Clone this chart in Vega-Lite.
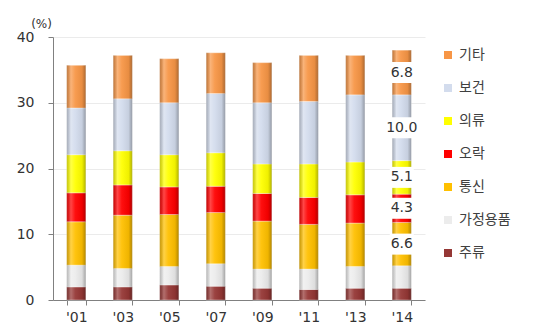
{
  "$schema": "https://vega.github.io/schema/vega-lite/v6.json",
  "autosize": "none",
  "width": 372,
  "height": 263,
  "padding": {"left": 53, "top": 37, "right": 112, "bottom": 28},
  "background": "white",
  "datasets": {
    "share": [
      {"year": "'01", "cat": "주류", "value": 2.0},
      {"year": "'01", "cat": "가정용품", "value": 3.3},
      {"year": "'01", "cat": "통신", "value": 6.6},
      {"year": "'01", "cat": "오락", "value": 4.4},
      {"year": "'01", "cat": "의류", "value": 5.8},
      {"year": "'01", "cat": "보건", "value": 7.1},
      {"year": "'01", "cat": "기타", "value": 6.5},
      {"year": "'03", "cat": "주류", "value": 2.0},
      {"year": "'03", "cat": "가정용품", "value": 2.8},
      {"year": "'03", "cat": "통신", "value": 8.1},
      {"year": "'03", "cat": "오락", "value": 4.6},
      {"year": "'03", "cat": "의류", "value": 5.2},
      {"year": "'03", "cat": "보건", "value": 7.9},
      {"year": "'03", "cat": "기타", "value": 6.6},
      {"year": "'05", "cat": "주류", "value": 2.3},
      {"year": "'05", "cat": "가정용품", "value": 2.8},
      {"year": "'05", "cat": "통신", "value": 7.9},
      {"year": "'05", "cat": "오락", "value": 4.2},
      {"year": "'05", "cat": "의류", "value": 4.9},
      {"year": "'05", "cat": "보건", "value": 7.9},
      {"year": "'05", "cat": "기타", "value": 6.7},
      {"year": "'07", "cat": "주류", "value": 2.1},
      {"year": "'07", "cat": "가정용품", "value": 3.4},
      {"year": "'07", "cat": "통신", "value": 7.8},
      {"year": "'07", "cat": "오락", "value": 4.0},
      {"year": "'07", "cat": "의류", "value": 5.1},
      {"year": "'07", "cat": "보건", "value": 9.0},
      {"year": "'07", "cat": "기타", "value": 6.2},
      {"year": "'09", "cat": "주류", "value": 1.8},
      {"year": "'09", "cat": "가정용품", "value": 2.9},
      {"year": "'09", "cat": "통신", "value": 7.3},
      {"year": "'09", "cat": "오락", "value": 4.2},
      {"year": "'09", "cat": "의류", "value": 4.5},
      {"year": "'09", "cat": "보건", "value": 9.3},
      {"year": "'09", "cat": "기타", "value": 6.1},
      {"year": "'11", "cat": "주류", "value": 1.6},
      {"year": "'11", "cat": "가정용품", "value": 3.1},
      {"year": "'11", "cat": "통신", "value": 6.8},
      {"year": "'11", "cat": "오락", "value": 4.1},
      {"year": "'11", "cat": "의류", "value": 5.1},
      {"year": "'11", "cat": "보건", "value": 9.5},
      {"year": "'11", "cat": "기타", "value": 7.0},
      {"year": "'13", "cat": "주류", "value": 1.8},
      {"year": "'13", "cat": "가정용품", "value": 3.3},
      {"year": "'13", "cat": "통신", "value": 6.6},
      {"year": "'13", "cat": "오락", "value": 4.3},
      {"year": "'13", "cat": "의류", "value": 5.0},
      {"year": "'13", "cat": "보건", "value": 10.2},
      {"year": "'13", "cat": "기타", "value": 6.0},
      {"year": "'14", "cat": "주류", "value": 1.8},
      {"year": "'14", "cat": "가정용품", "value": 3.4},
      {"year": "'14", "cat": "통신", "value": 6.6},
      {"year": "'14", "cat": "오락", "value": 4.3},
      {"year": "'14", "cat": "의류", "value": 5.1},
      {"year": "'14", "cat": "보건", "value": 10.0},
      {"year": "'14", "cat": "기타", "value": 6.8}
    ],
    "categories": [
      {"cat": "주류", "rank": 1},
      {"cat": "가정용품", "rank": 2},
      {"cat": "통신", "rank": 3},
      {"cat": "오락", "rank": 4},
      {"cat": "의류", "rank": 5},
      {"cat": "보건", "rank": 6},
      {"cat": "기타", "rank": 7}
    ]
  },
  "data": {"name": "share"},
  "transform": [
    {"lookup": "cat", "from": {"data": {"name": "categories"}, "key": "cat", "fields": ["rank"]}},
    {"stack": "value", "groupby": ["year"], "sort": [{"field": "rank", "order": "ascending"}], "as": ["lo", "hi"]}
  ],
  "config": {
    "view": {"stroke": null},
    "font": "DejaVu Sans"
  },
  "encoding": {
    "x": {
      "field": "year",
      "type": "nominal",
      "sort": null,
      "scale": {"paddingInner": 0.59, "paddingOuter": 0.295},
      "axis": {
        "title": null,
        "labelAngle": 0,
        "labelFont": "DejaVu Sans",
        "labelFontSize": 14,
        "labelColor": "#333333",
        "labelPadding": 5,
        "tickBand": "extent",
        "tickSize": 5,
        "tickColor": "#808080",
        "domainColor": "#808080",
        "grid": false
      }
    }
  },
  "layer": [
    {
      "mark": {"type": "bar", "stroke": "#ffffff", "strokeWidth": 0.6, "strokeOpacity": 0.6},
      "encoding": {
        "y": {
          "field": "lo",
          "type": "quantitative",
          "scale": {"domain": [0, 40], "nice": false},
          "axis": {
            "title": "(%)",
            "titleAngle": 0,
            "titleAlign": "center",
            "titleBaseline": "bottom",
            "titleX": -12,
            "titleY": -7,
            "titleFont": "DejaVu Sans",
            "titleFontSize": 12,
            "titleFontWeight": "normal",
            "titleColor": "#333333",
            "values": [0, 10, 20, 30, 40],
            "labelFont": "DejaVu Sans",
            "labelFontSize": 14,
            "labelColor": "#333333",
            "labelPadding": 14,
            "tickSize": 5,
            "tickColor": "#808080",
            "domainColor": "#808080",
            "gridColor": "#ebebeb",
            "gridWidth": 1
          }
        },
        "y2": {"field": "hi"},
        "color": {
          "field": "cat",
          "type": "nominal",
          "scale": {
            "domain": ["기타", "보건", "의류", "오락", "통신", "가정용품", "주류"],
            "range": ["#f79646", "#d3dced", "#ffff00", "#ff0000", "#ffc000", "#ececec", "#953735"]
          },
          "legend": {
            "title": null,
            "orient": "none",
            "legendX": 388,
            "legendY": 11,
            "symbolType": "square",
            "symbolSize": 64,
            "symbolStrokeWidth": 0,
            "labelFont": "Noto Sans CJK KR",
            "labelFontSize": 14,
            "labelColor": "#404040",
            "labelOffset": 4,
            "rowPadding": 19
          }
        }
      }
    },
    {
      "mark": {
        "type": "bar",
        "fill": {
          "gradient": "linear",
          "x1": 0, "y1": 0, "x2": 1, "y2": 0,
          "stops": [
            {"offset": 0, "color": "rgba(0,0,0,0.22)"},
            {"offset": 0.22, "color": "rgba(255,255,255,0.28)"},
            {"offset": 0.45, "color": "rgba(255,255,255,0.06)"},
            {"offset": 0.8, "color": "rgba(0,0,0,0.06)"},
            {"offset": 1, "color": "rgba(0,0,0,0.3)"}
          ]
        }
      },
      "encoding": {
        "y": {"field": "lo", "type": "quantitative"},
        "y2": {"field": "hi"},
        "detail": {"field": "cat"}
      }
    },
    {
      "transform": [
        {"filter": "datum.year == \"'14\" && datum.rank > 2"},
        {"fold": ["lo", "hi"], "as": ["edge", "pos"]},
        {"aggregate": [{"op": "mean", "field": "pos", "as": "mid"}], "groupby": ["year", "cat", "value"]}
      ],
      "layer": [
        {
          "mark": {"type": "point", "filled": true, "fill": "white", "opacity": 1, "strokeWidth": 0},
          "encoding": {
            "y": {"field": "mid", "type": "quantitative"},
            "shape": {
              "condition": {"test": "datum.value >= 10", "value": "M-1,-0.62H1V0.62H-1Z"},
              "value": "M-1,-0.875H1V0.875H-1Z"
            },
            "size": {
              "condition": {"test": "datum.value >= 10", "value": 1156},
              "value": 576
            }
          }
        },
        {
          "mark": {"type": "text", "font": "DejaVu Sans", "fontSize": 14, "color": "#333333"},
          "encoding": {
            "y": {"field": "mid", "type": "quantitative"},
            "text": {"field": "value", "type": "quantitative", "format": ".1f"}
          }
        }
      ]
    }
  ]
}
